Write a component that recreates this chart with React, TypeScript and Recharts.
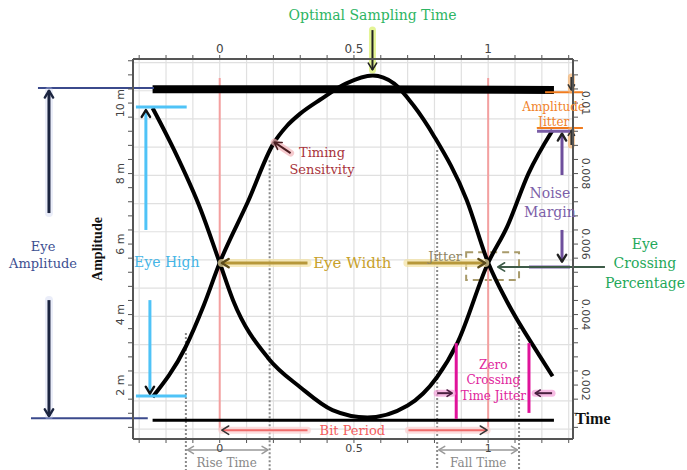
import * as React from 'react'
import {
  ComposedChart,
  Line,
  XAxis,
  YAxis,
  CartesianGrid,
  ReferenceLine,
  ReferenceDot,
  ReferenceArea
} from 'recharts'

// time in unit intervals, amplitude in m
const xTicks = [-0.3, -0.2, -0.1, 0, 0.1, 0.2, 0.3, 0.4, 0.5, 0.6, 0.7, 0.8, 0.9, 1, 1.1, 1.2, 1.3]
const xLabels = [0, 0.5, 1]
const yTicks = [0.8, 1.2, 1.6, 2, 2.4, 2.8, 3.2, 3.6, 4, 4.4, 4.8, 5.2, 5.6, 6, 6.4, 6.8, 7.2, 7.6, 8, 8.4, 8.8, 9.2, 9.6, 10, 10.4, 10.8, 11.2]
const yLabels = [2, 4, 6, 8, 10]
const gridY = [0.75, 1.55, 2.35, 3.15, 3.95, 4.75, 5.55, 6.35, 7.15, 7.95, 8.75, 9.55, 10.35, 11.15]

// falling edge -> low -> rising edge
const uCurve = [
  { x: -0.25, y: 9.86 }, { x: -0.17, y: 8.67 }, { x: -0.07, y: 6.96 }, { x: 0, y: 5.47 },
  { x: 0.05, y: 4.4 }, { x: 0.18, y: 2.77 }, { x: 0.3, y: 1.94 }, { x: 0.42, y: 1.29 },
  { x: 0.55, y: 1.08 }, { x: 0.7, y: 1.42 }, { x: 0.81, y: 2.23 }, { x: 0.885, y: 3.19 },
  { x: 1.0, y: 5.47 }, { x: 1.07, y: 6.48 }, { x: 1.15, y: 8.0 }, { x: 1.24, y: 9.23 }
]
// rising edge -> high -> falling edge
const nCurve = [
  { x: -0.25, y: 1.66 }, { x: -0.127, y: 3.08 }, { x: -0.06, y: 4.25 }, { x: 0, y: 5.47 },
  { x: 0.105, y: 7.2 }, { x: 0.2, y: 8.85 }, { x: 0.25, y: 9.35 }, { x: 0.3, y: 9.7 },
  { x: 0.375, y: 10.1 }, { x: 0.47, y: 10.55 }, { x: 0.57, y: 10.78 }, { x: 0.65, y: 10.55 },
  { x: 0.72, y: 9.95 }, { x: 0.8, y: 9.04 }, { x: 0.92, y: 7.25 }, { x: 1.0, y: 5.47 },
  { x: 1.07, y: 4.37 }, { x: 1.19, y: 2.85 }, { x: 1.24, y: 2.25 }
]
const highRail = [{ x: -0.25, y: 10.39 }, { x: 0.5, y: 10.39 }, { x: 1.245, y: 10.37 }]
const lowRail = [{ x: -0.25, y: 1.0 }, { x: 0.5, y: 1.0 }, { x: 1.245, y: 1.0 }]

const X0 = -0.323
const X1 = 1.316
const Y0 = 0.47
const Y1 = 11.25

const SERIF = "'DejaVu Serif', serif"
const SANS = "'DejaVu Sans', sans-serif"

const near = (list: number[], v: number) => list.some((l) => Math.abs(l - v) < 1e-6)

const LeftTick = (p: any) => {
  const v = p.payload.value
  if (!near(yLabels, v)) return null
  const x = p.x - 2
  return (
    <text x={x} y={p.y} transform={`rotate(-90, ${x}, ${p.y})`} textAnchor="middle" fontSize={11} fill="#444" fontFamily={SANS}>
      {`${Math.round(v)} m`}
    </text>
  )
}

const RightTick = (p: any) => {
  const v = p.payload.value
  if (!near(yLabels, v)) return null
  const x = p.x + 2
  return (
    <text x={x} y={p.y} transform={`rotate(90, ${x}, ${p.y})`} textAnchor="middle" fontSize={11} fill="#444" fontFamily={SANS}>
      {`${Math.round(v) / 1000}`}
    </text>
  )
}

type AOpt = { c: string; w?: number; glow?: string; go?: number; head?: 'start' | 'end' | 'both' | 'none'; hc?: string; dash?: string; hl?: number }

const arrowShape = (o: AOpt) => (p: any) => {
  const { x1, y1, x2, y2 } = p
  const w = o.w ?? 2
  const hl = o.hl ?? 8
  const h = o.head ?? 'end'
  const head = (tx: number, ty: number, fx: number, fy: number, k: string) => {
    const a = Math.atan2(ty - fy, tx - fx)
    const s = 0.55
    const pts = `${tx - hl * Math.cos(a - s)},${ty - hl * Math.sin(a - s)} ${tx},${ty} ${tx - hl * Math.cos(a + s)},${ty - hl * Math.sin(a + s)}`
    return <polyline key={k} points={pts} fill="none" stroke={o.hc ?? o.c} strokeWidth={Math.max(1.5, w * 0.8)} strokeLinecap="round" strokeLinejoin="round" />
  }
  return (
    <g>
      {o.glow && <line x1={x1} y1={y1} x2={x2} y2={y2} stroke={o.glow} strokeWidth={w + 5} strokeLinecap="round" strokeOpacity={o.go ?? 0.7} />}
      <line x1={x1} y1={y1} x2={x2} y2={y2} stroke={o.c} strokeWidth={w} strokeDasharray={o.dash} />
      {(h === 'end' || h === 'both') && head(x2, y2, x1, y1, 'e')}
      {(h === 'start' || h === 'both') && head(x1, y1, x2, y2, 's')}
    </g>
  )
}

type TOpt = { c: string; s: number; lh?: number; bold?: boolean; rot?: number; font?: string }

const textShape = (lines: string[], o: TOpt) => (p: any) => {
  const { cx, cy } = p
  const lh = o.lh ?? o.s * 1.25
  const y0 = cy - ((lines.length - 1) * lh) / 2
  return (
    <text
      x={cx}
      y={y0}
      textAnchor="middle"
      fill={o.c}
      fontSize={o.s}
      fontFamily={o.font ?? SERIF}
      fontWeight={o.bold ? 'bold' : 'normal'}
      transform={o.rot ? `rotate(${o.rot}, ${cx}, ${cy})` : undefined}
    >
      {lines.map((l, i) => (
        <tspan key={i} x={cx} y={y0 + i * lh} dominantBaseline="central">{l}</tspan>
      ))}
    </text>
  )
}

const seg = (k: string, x1: number, y1: number, x2: number, y2: number, o: AOpt) => (
  <ReferenceLine
    key={k}
    xAxisId="b"
    yAxisId="l"
    ifOverflow="visible"
    segment={[{ x: x1, y: y1 }, { x: x2, y: y2 }]}
    shape={arrowShape(o)}
  />
)

const note = (k: string, x: number, y: number, lines: string[], o: TOpt) => (
  <ReferenceDot key={k} xAxisId="b" yAxisId="l" x={x} y={y} r={0} ifOverflow="visible" shape={textShape(lines, o)} />
)

const dotted: AOpt = { c: '#8a8a8a', w: 2, dash: '2 2', head: 'none' }

export default function App(): React.ReactElement {
  const fmtX = (v: number) => (near(xLabels, v) ? String(v) : '')
  const axisLine = { stroke: '#555', strokeWidth: 2 }
  return (
    <div style={{ position: 'absolute', left: 0, top: 0, width: 687, height: 470, background: '#fff' }}>
      <ComposedChart width={687} height={470} margin={{ top: 39, right: 84, bottom: 11, left: 103 }}>
        <CartesianGrid xAxisId="b" yAxisId="g" stroke="#e0e0e0" strokeWidth={1.2} />
        <XAxis xAxisId="b" dataKey="x" type="number" domain={[X0, X1]} allowDataOverflow ticks={xTicks} interval={0}
          tickFormatter={fmtX} height={20} tickSize={4} tickMargin={1} axisLine={axisLine} tickLine={{ stroke: '#555' }}
          tick={{ fontSize: 11, fill: '#444', fontFamily: SANS }} />
        <XAxis xAxisId="t" orientation="top" dataKey="x" type="number" domain={[X0, X1]} allowDataOverflow ticks={xTicks} interval={0}
          tickFormatter={fmtX} height={20} tickSize={4} axisLine={axisLine} tickLine={{ stroke: '#555' }}
          tick={{ fontSize: 12, fill: '#444', fontFamily: SANS }} />
        <YAxis yAxisId="g" hide width={0} type="number" domain={[Y0, Y1]} allowDataOverflow ticks={gridY} interval={0} />
        <YAxis yAxisId="l" type="number" domain={[Y0, Y1]} allowDataOverflow ticks={yTicks} interval={0}
          width={30} tickSize={5} axisLine={axisLine} tickLine={{ stroke: '#555' }} tick={<LeftTick />} />
        <YAxis yAxisId="r" orientation="right" type="number" domain={[Y0, Y1]} allowDataOverflow ticks={yTicks} interval={0}
          width={30} tickSize={5} axisLine={axisLine} tickLine={{ stroke: '#555' }} tick={<RightTick />} />

        {/* bit boundaries */}
        {seg('r0', 0, 0.72, 0, 10.71, { c: '#f4a0a0', w: 2, head: 'none' })}
        {seg('r1', 1, 0.72, 1, 10.71, { c: '#f4a0a0', w: 2, head: 'none' })}
        {/* dotted time markers */}
        {seg('d1', -0.126, 3.48, -0.126, -0.41, dotted)}
        {seg('d2', 0.186, 8.38, 0.186, -0.41, dotted)}
        {seg('d3', 0.81, 8.67, 0.81, -0.41, dotted)}
        {seg('d4', 1.115, 3.65, 1.115, -0.41, dotted)}

        <Line xAxisId="b" yAxisId="l" data={highRail} dataKey="y" type="linear" stroke="#000" strokeWidth={8} dot={false} isAnimationActive={false} />
        <Line xAxisId="b" yAxisId="l" data={lowRail} dataKey="y" type="linear" stroke="#000" strokeWidth={3} dot={false} isAnimationActive={false} />
        <Line xAxisId="b" yAxisId="l" data={uCurve} dataKey="y" type="monotone" stroke="#000" strokeWidth={4} dot={false} isAnimationActive={false} />
        <Line xAxisId="b" yAxisId="l" data={nCurve} dataKey="y" type="monotone" stroke="#000" strokeWidth={4} dot={false} isAnimationActive={false} />

        <ReferenceArea xAxisId="b" yAxisId="l" x1={0.918} x2={1.115} y1={4.98} y2={5.77} ifOverflow="visible"
          fill="none" stroke="#a89a6a" strokeWidth={2} strokeDasharray="7 5" />

        {/* optimal sampling time */}
        {note('opt', 0.569, 12.5, ['Optimal Sampling Time'], { c: '#2db563', s: 14 })}
        {seg('opta', 0.569, 12.07, 0.569, 10.94, { c: '#222', w: 2, glow: '#d9f06a' })}

        {/* eye amplitude */}
        {seg('ea1', -0.677, 10.43, -0.245, 10.43, { c: '#3b4a8c', w: 2, head: 'none' })}
        {seg('ea2', -0.703, 1.06, -0.268, 1.06, { c: '#3b4a8c', w: 2, head: 'none' })}
        {seg('ea3', -0.636, 6.88, -0.636, 10.35, { c: '#1c2540', w: 3, glow: '#c3cbee', go: 0.35 })}
        {seg('ea4', -0.636, 4.41, -0.636, 1.12, { c: '#1c2540', w: 3, glow: '#c3cbee', go: 0.35 })}
        {note('eat', -0.658, 5.7, ['Eye', 'Amplitude'], { c: '#3d4f91', s: 13, lh: 17 })}

        {/* eye high */}
        {seg('eh1', -0.312, 9.89, -0.123, 9.89, { c: '#4fc3f7', w: 3, head: 'none' })}
        {seg('eh2', -0.312, 1.69, -0.123, 1.69, { c: '#4fc3f7', w: 3, head: 'none' })}
        {seg('eh3', -0.275, 6.4, -0.275, 9.8, { c: '#4fc3f7', w: 3, hc: '#111' })}
        {seg('eh4', -0.26, 4.41, -0.26, 1.76, { c: '#4fc3f7', w: 3, hc: '#111' })}
        {note('eht', -0.197, 5.49, ['Eye High'], { c: '#45b5e6', s: 14 })}

        {/* amplitude axis name and time label */}
        {note('amp', -0.454, 5.86, ['Amplitude'], { c: '#111', s: 14, bold: true, rot: -90, font: "'Liberation Serif', serif" })}
        {note('time', 1.39, 1.06, ['Time'], { c: '#111', s: 16, bold: true, font: "'Liberation Serif', serif" })}

        {/* eye width */}
        {seg('ew1', 0.327, 5.46, 0.008, 5.46, { c: '#b7983a', w: 3, glow: '#f3e2a2', hc: '#5a4a1a' })}
        {seg('ew2', 0.699, 5.46, 0.989, 5.46, { c: '#b7983a', w: 3, glow: '#f3e2a2', hc: '#5a4a1a' })}
        {note('ewt', 0.494, 5.46, ['Eye Width'], { c: '#c8a12a', s: 15 })}
        {note('jit', 0.84, 5.66, ['Jitter'], { c: '#8f8563', s: 13 })}

        {/* timing sensitivity */}
        {seg('ts', 0.264, 8.58, 0.203, 8.89, { c: '#4a1c20', w: 2, glow: '#f2b4b9' })}
        {note('tst', 0.381, 8.35, ['Timing', 'Sensitvity'], { c: '#a8343c', s: 13, lh: 17 })}

        {/* amplitude jitter */}
        {seg('aj1', 1.212, 10.31, 1.353, 10.31, { c: '#f07b1e', w: 2, head: 'none' })}
        {seg('aj2', 1.182, 9.29, 1.353, 9.29, { c: '#f07b1e', w: 2, head: 'none' })}
        {seg('aj3', 1.31, 10.74, 1.31, 10.37, { c: '#333', w: 2, glow: '#f6b36f', hl: 6 })}
        {seg('aj4', 1.31, 8.81, 1.31, 9.23, { c: '#333', w: 2, glow: '#f6b36f', hl: 6 })}
        {note('ajt', 1.244, 9.68, ['Amplitude', 'Jitter'], { c: '#f0822a', s: 12, lh: 15 })}

        {/* noise margin */}
        {seg('nm1', 1.182, 9.2, 1.305, 9.2, { c: '#7b5ea7', w: 3, head: 'none' })}
        {seg('nm2', 1.152, 5.35, 1.305, 5.35, { c: '#7b5ea7', w: 3, head: 'none' })}
        {seg('nm3', 1.275, 7.96, 1.275, 9.13, { c: '#6e4f9c', w: 3, hc: '#222' })}
        {seg('nm4', 1.275, 6.4, 1.275, 5.5, { c: '#6e4f9c', w: 3, hc: '#222' })}
        {note('nmt', 1.23, 7.18, ['Noise', 'Margin'], { c: '#7d5fa8', s: 14, lh: 19 })}

        {/* eye crossing percentage */}
        {seg('ec', 1.435, 5.35, 1.036, 5.35, { c: '#3e5b48', w: 2 })}
        {note('ect', 1.584, 5.46, ['Eye', 'Crossing', 'Percentage'], { c: '#1fa85a', s: 14, lh: 19.5 })}

        {/* zero crossing time jitter */}
        {seg('zc1', 0.881, 3.19, 0.881, 1.04, { c: '#e0139a', w: 3, head: 'none' })}
        {seg('zc2', 1.152, 3.19, 1.152, 1.21, { c: '#e0139a', w: 3, head: 'none' })}
        {seg('zc3', 0.81, 1.77, 0.866, 1.77, { c: '#4a2040', w: 2, glow: '#f3a0d8', hl: 6 })}
        {seg('zc4', 1.238, 1.77, 1.175, 1.77, { c: '#4a2040', w: 2, glow: '#f3a0d8', hl: 6 })}
        {note('zct', 1.019, 2.13, ['Zero', 'Crossing', 'Time Jitter'], { c: '#e0249c', s: 12, lh: 15.5 })}

        {/* bit period */}
        {seg('bp1', 0.327, 0.72, 0.008, 0.72, { c: '#f06a6a', w: 2, glow: '#fbd0d0', hc: '#333' })}
        {seg('bp2', 0.703, 0.72, 0.996, 0.72, { c: '#f06a6a', w: 2, glow: '#fbd0d0', hc: '#333' })}
        {note('bpt', 0.494, 0.72, ['Bit Period'], { c: '#f25c5c', s: 13 })}

        {/* rise / fall time */}
        {seg('rt', -0.12, 0.16, 0.18, 0.16, { c: '#999', w: 1.5, head: 'both', hl: 7 })}
        {seg('ft', 0.816, 0.16, 1.109, 0.16, { c: '#999', w: 1.5, head: 'both', hl: 7 })}
        {note('rtt', 0.026, -0.21, ['Rise Time'], { c: '#888', s: 12 })}
        {note('ftt', 0.963, -0.21, ['Fall Time'], { c: '#888', s: 12 })}
      </ComposedChart>
    </div>
  )
}
